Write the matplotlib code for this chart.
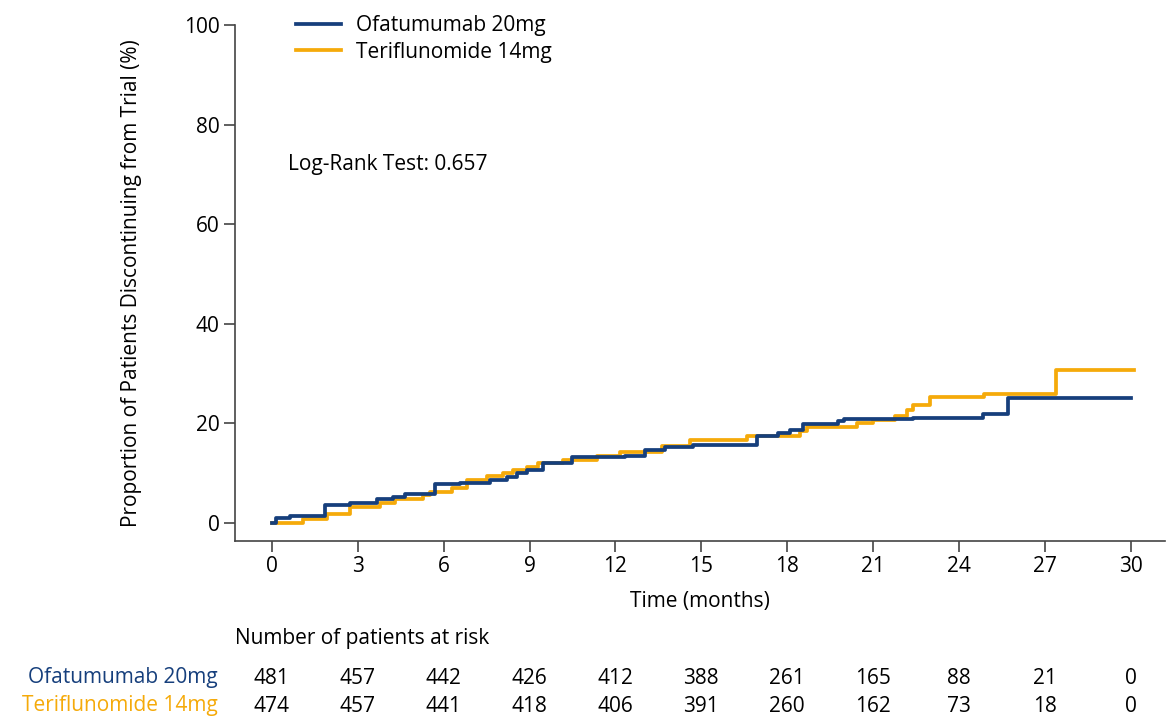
import matplotlib
matplotlib.use("Agg")
from matplotlib import pyplot as plt

plt.rcParams['font.family'] = ['Open Sans', 'DejaVu Sans']

# step curves (months, % discontinued)
ofa_t = [0, 0.14, 0.63, 1.85, 2.73, 3.67, 4.23, 4.65, 5.7, 6.57, 7.62, 8.22, 8.57, 8.92,
         9.48, 10.49, 12.34, 13.04, 13.74, 14.7, 16.96, 17.69, 18.1, 18.57, 19.76, 19.97,
         22.41, 24.83, 25.7, 30.0]
ofa_y = [0, 1.0, 1.5, 3.6, 4.0, 4.8, 5.2, 5.8, 7.8, 8.0, 8.6, 9.2, 10.0, 10.6,
         12.0, 13.2, 13.5, 14.6, 15.2, 15.7, 17.4, 18.0, 18.7, 19.9, 20.5, 20.8,
         21.1, 22.0, 25.2, 25.2]

teri_t = [0, 1.08, 1.92, 2.73, 3.78, 4.3, 5.28, 5.52, 6.29, 6.82, 7.52, 8.08, 8.43, 8.92,
          9.3, 10.17, 11.36, 12.17, 13.64, 14.62, 16.61, 18.46, 18.71, 20.45, 21.01, 21.78,
          22.2, 22.38, 23.0, 24.86, 27.38, 30.1]
teri_y = [0, 0.8, 1.8, 3.2, 4.0, 4.8, 5.6, 6.2, 7.0, 8.6, 9.4, 10.0, 10.6, 11.2,
          12.0, 12.6, 13.5, 14.3, 15.5, 16.7, 17.5, 18.5, 19.3, 20.0, 20.7, 21.5,
          22.7, 23.7, 25.3, 26.0, 30.7, 30.7]

risk_times = [0, 3, 6, 9, 12, 15, 18, 21, 24, 27, 30]
ofa_risk = [481, 457, 442, 426, 412, 388, 261, 165, 88, 21, 0]
teri_risk = [474, 457, 441, 418, 406, 391, 260, 162, 73, 18, 0]

blue = "#163f7c"
orange = "#f5aa0a"
fs = 15

fig = plt.figure(figsize=(11.73, 7.18), dpi=100)
ax = fig.add_axes([0.2003, 0.2465, 0.7929, 0.7187])

ax.step(teri_t, teri_y, where='post', color=orange, lw=2.7, label="Teriflunomide 14mg")
ax.step(ofa_t, ofa_y, where='post', color=blue, lw=2.7, label="Ofatumumab 20mg")

ax.set_xlim(-1.29, 31.2)
ax.set_ylim(-3.6, 100)
ax.set_xticks(risk_times)
ax.set_yticks([0, 20, 40, 60, 80, 100])
ax.tick_params(labelsize=fs, length=8, width=1.2, color="#444444", pad=3)
for s in ['top', 'right']:
    ax.spines[s].set_visible(False)
for s in ['left', 'bottom']:
    ax.spines[s].set_color("#444444")
    ax.spines[s].set_linewidth(1.2)

ax.set_xlabel("Time (months)", fontsize=fs, labelpad=10)
ax.set_ylabel("Proportion of Patients Discontinuing from Trial (%)", fontsize=fs, labelpad=30)

ax.text(0.56, 72, "Log-Rank Test: 0.657", fontsize=fs, va='center')

h = ax.get_legend_handles_labels()[0]
ax.legend([h[1], h[0]], ["Ofatumumab 20mg", "Teriflunomide 14mg"], loc='upper left',
          bbox_to_anchor=(0.045, 1.055), frameon=False, fontsize=fs, handlelength=2.2,
          handletextpad=0.7, labelspacing=0.25)

# risk table
tr = ax.get_xaxis_transform()
ax.text(-1.3, -0.188, "Number of patients at risk", transform=tr, fontsize=fs,
        va='center', ha='left', clip_on=False)
for t, a, b in zip(risk_times, ofa_risk, teri_risk):
    ax.text(t, -0.2655, str(a), transform=tr, fontsize=fs, ha='center', va='center', clip_on=False)
    ax.text(t, -0.32, str(b), transform=tr, fontsize=fs, ha='center', va='center', clip_on=False)
fig.text(218 / 1173, 1 - 678 / 718, "Ofatumumab 20mg", color=blue, fontsize=fs,
         ha='right', va='center')
fig.text(218 / 1173, 1 - 706 / 718, "Teriflunomide 14mg", color=orange, fontsize=fs,
         ha='right', va='center')

fig.savefig("out.png", dpi=100)
